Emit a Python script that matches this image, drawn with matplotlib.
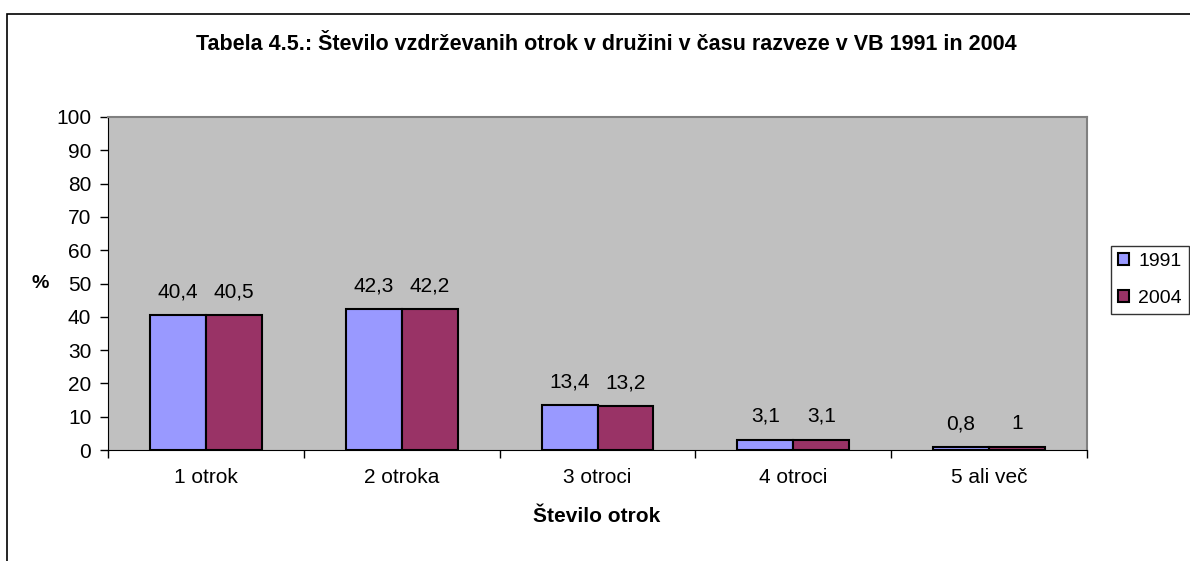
import matplotlib.pyplot as plt
import numpy as np
from matplotlib.patches import Rectangle

categories = ['1 otrok', '2 otroka', '3 otroci', '4 otroci', '5 ali več']
v1991 = [40.4, 42.3, 13.4, 3.1, 0.8]
v2004 = [40.5, 42.2, 13.2, 3.1, 1]
labels1991 = ['40,4', '42,3', '13,4', '3,1', '0,8']
labels2004 = ['40,5', '42,2', '13,2', '3,1', '1']

plt.rcParams['font.family'] = ['Liberation Sans', 'DejaVu Sans']

W, H = 1190, 561
fig = plt.figure(figsize=(W / 100, H / 100), dpi=100)

# outer chart border (cut off at right and bottom)
fig.patches.append(Rectangle((7 / W, -0.1), 1.2, (H - 14) / H + 0.1,
                             transform=fig.transFigure, fill=False,
                             edgecolor='black', linewidth=1.2))

x0, x1, y0, y1 = 108, 1087, 117, 450
ax = fig.add_axes([x0 / W, 1 - y1 / H, (x1 - x0) / W, (y1 - y0) / H])
ax.set_facecolor('#C0C0C0')

x = np.arange(len(categories))
bw = 0.286
b1 = ax.bar(x - bw / 2, v1991, bw, color='#9999FF', edgecolor='black', linewidth=1.5, label='1991')
b2 = ax.bar(x + bw / 2, v2004, bw, color='#993366', edgecolor='black', linewidth=1.5, label='2004')

for bars, labs in ((b1, labels1991), (b2, labels2004)):
    for b, t in zip(bars, labs):
        ax.text(b.get_x() + b.get_width() / 2, b.get_height() + 7.0, t,
                ha='center', va='center', fontsize=15)

ax.set_xlim(-0.5, len(categories) - 0.5)
ax.set_ylim(0, 100)
ax.set_yticks(np.arange(0, 101, 10))
ax.tick_params(axis='y', labelsize=15, direction='out', length=6, width=1, pad=6)
ax.set_xticks(np.arange(-0.5, len(categories)), minor=False)
ax.set_xticklabels([''] * (len(categories) + 1))
ax.set_xticks(x, minor=True)
ax.set_xticklabels(categories, minor=True, fontsize=15)
ax.tick_params(axis='x', which='major', direction='out', length=6, width=1)
ax.tick_params(axis='x', which='minor', length=0, pad=13)

for s in ('top', 'right'):
    ax.spines[s].set_color('#808080')
    ax.spines[s].set_linewidth(1.5)
ax.spines['left'].set_color('black')
ax.spines['bottom'].set_color('black')

fig.text(606 / W, 1 - 45 / H, 'Tabela 4.5.: Število vzdrževanih otrok v družini v času razveze v VB 1991 in 2004',
         ha='center', va='center', fontsize=15.5, fontweight='bold')
fig.text(40 / W, 1 - 283 / H, '%', ha='center', va='center', fontsize=14, fontweight='bold')
fig.text(597 / W, 1 - 517 / H, 'Število otrok', ha='center', va='center', fontsize=15, fontweight='bold')

leg = fig.legend(handles=[b1, b2], loc='upper left', bbox_to_anchor=(1111 / W, 1 - 246 / H),
                 fontsize=14, frameon=True, fancybox=False, borderpad=0.35,
                 handlelength=0.55, handleheight=0.55, handletextpad=0.5, labelspacing=1.05,
                 borderaxespad=0)
leg.get_frame().set_edgecolor('black')
leg.get_frame().set_linewidth(1)

fig.savefig('out.png', dpi=100)
